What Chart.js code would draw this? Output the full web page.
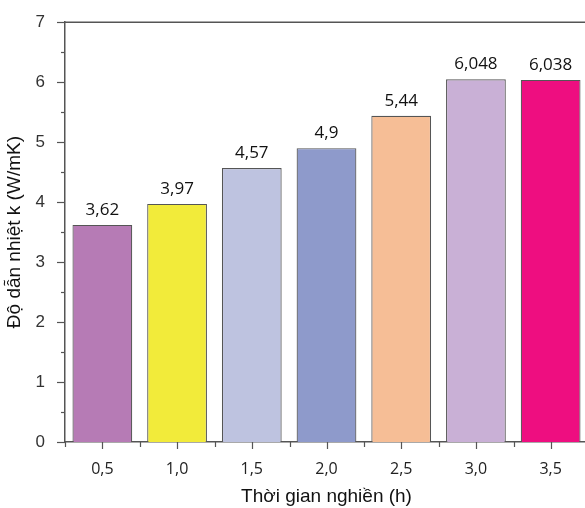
<!DOCTYPE html>
<html>
<head>
<meta charset="utf-8">
<script src="https://cdn.jsdelivr.net/npm/chart.js@4/dist/chart.umd.min.js"></script>
<style>
  html, body { margin: 0; padding: 0; background: #fff; overflow: hidden; }
  #box { width: 588px; height: 508px; }
</style>
</head>
<body>
<div id="box"><canvas id="grafico"></canvas></div>
<script>
var thoiGian = ['0,5', '1,0', '1,5', '2,0', '2,5', '3,0', '3,5'];
var doDanNhiet = [3.62, 3.97, 4.57, 4.9, 5.44, 6.048, 6.038];
var nhanGiaTri = ['3,62', '3,97', '4,57', '4,9', '5,44', '6,048', '6,038'];
var mauCot = ['#B67BB5', '#F2EB3A', '#BEC3E0', '#8E9ACB', '#F6BE96', '#C9B0D6', '#EE0E80'];
var yTicks = [0, 1, 2, 3, 4, 5, 6, 7];

// vach chia nho, khung tren va nhan gia tri
const trucPlugin = {
    id: 'trucPlugin',
    afterDraw(chart) {
        const ctx = chart.ctx;
        const x = chart.scales.x;
        const y = chart.scales.y;
        const area = chart.chartArea;
        ctx.save();
        ctx.strokeStyle = '#555';
        ctx.lineWidth = 1.5;
        // khung tren
        ctx.beginPath();
        ctx.moveTo(area.left, area.top);
        ctx.lineTo(area.right + 5, area.top);
        ctx.stroke();
        // vach truc y
        ctx.lineWidth = 1.2;
        for (let v = 0; v <= 7; v += 0.5) {
            const py = Math.round(y.getPixelForValue(v)) + 0.5;
            const len = Number.isInteger(v) ? 8 : 4;
            ctx.beginPath();
            ctx.moveTo(area.left - len, py);
            ctx.lineTo(area.left, py);
            ctx.stroke();
        }
        // vach truc x
        const step = x.getPixelForValue(1) - x.getPixelForValue(0);
        for (let i = 0; i < thoiGian.length; i++) {
            const c = Math.round(x.getPixelForValue(i)) + 0.5;
            const b = Math.round(c - step / 2) + 0.5;
            ctx.beginPath();
            ctx.moveTo(c, area.bottom);
            ctx.lineTo(c, area.bottom + 7);
            ctx.moveTo(b, area.bottom);
            ctx.lineTo(b, area.bottom + 5);
            ctx.stroke();
        }
        // nhan gia tri
        ctx.fillStyle = '#111';
        ctx.font = '17px "Open Sans", sans-serif';
        ctx.textAlign = 'center';
        ctx.textBaseline = 'middle';
        chart.getDatasetMeta(0).data.forEach(function (bar, i) {
            ctx.fillText(nhanGiaTri[i], bar.x, bar.y - 15);
        });
        ctx.restore();
    }
};

new Chart(document.getElementById('grafico'), {
    type: 'bar',
    data: {
        labels: thoiGian,
        datasets: [{
            data: doDanNhiet,
            backgroundColor: mauCot,
            borderColor: '#555',
            borderWidth: 1.2,
            categoryPercentage: 0.8,
            barPercentage: 1
        }]
    },
    options: {
        responsive: true,
        maintainAspectRatio: false,
        animation: false,
        layout: { padding: { left: 3, right: 0, top: 18, bottom: 0 } },
        plugins: {
            legend: { display: false },
            tooltip: { enabled: false }
        },
        scales: {
            x: {
                offset: true,
                grid: { display: false },
                border: { display: true, color: '#555', width: 1.5 },
                ticks: {
                    color: '#222',
                    padding: 10,
                    font: { size: 16, family: '"Open Sans", sans-serif' }
                },
                title: {
                    display: true,
                    text: 'Thời gian nghiền (h)',
                    color: '#111',
                    padding: 0,
                    font: { size: 19, family: '"Liberation Sans", Arial, sans-serif' }
                },
                afterFit(scale) { scale.height = 66; }
            },
            y: {
                min: 0,
                max: 7,
                grid: { display: false },
                border: { display: true, color: '#555', width: 1.5 },
                afterBuildTicks(scale) {
                    scale.ticks = yTicks.map(v => ({ value: v }));
                },
                ticks: {
                    color: '#333',
                    padding: 12,
                    font: { size: 17, family: '"Liberation Sans", Arial, sans-serif' }
                },
                title: {
                    display: true,
                    text: 'Độ dẫn nhiệt k (W/mK)',
                    color: '#111',
                    padding: 0,
                    font: { size: 19, family: '"Liberation Sans", Arial, sans-serif' }
                },
                afterFit(scale) { scale.width = 62; }
            }
        }
    },
    plugins: [trucPlugin]
});
</script>
</body>
</html>
